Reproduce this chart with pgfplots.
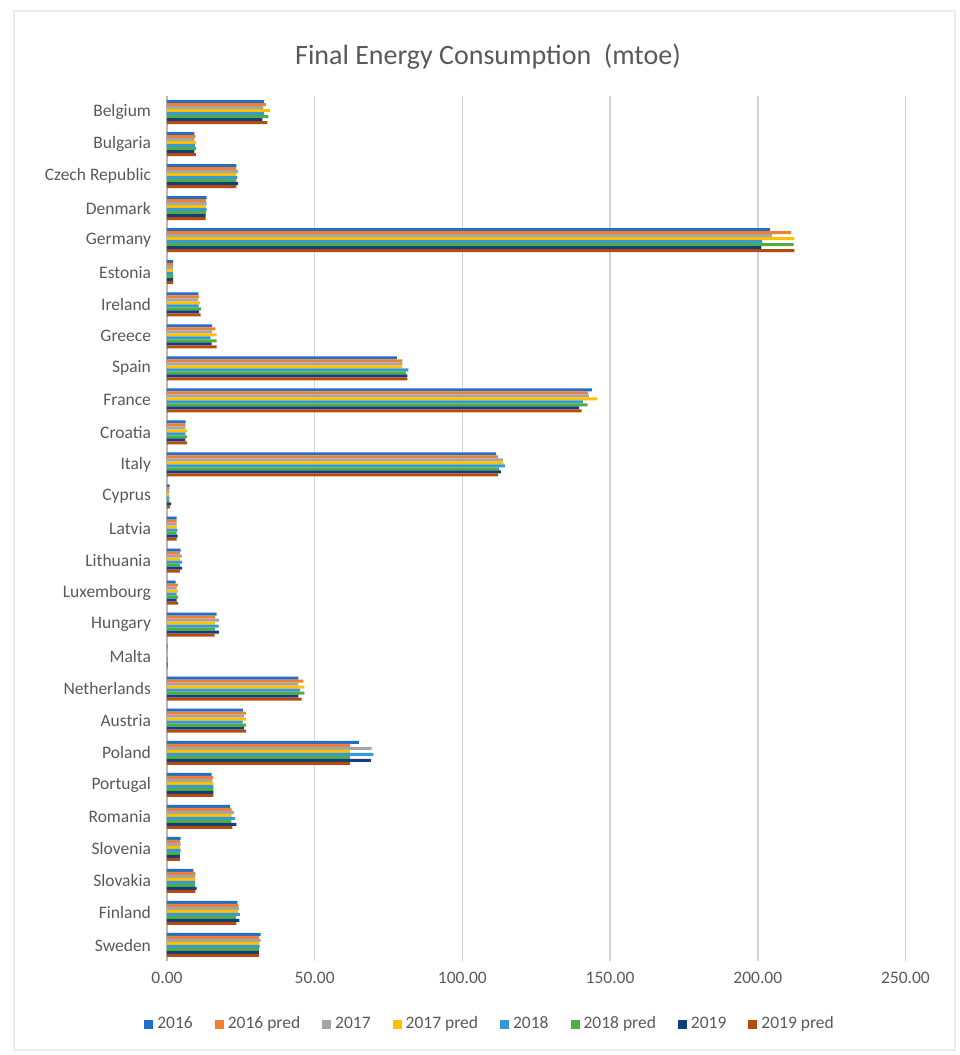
\documentclass[border=0pt]{standalone}
\usepackage{pgfplots}
\pgfplotsset{compat=1.18}
\usepackage{pgfplotstable}
\usepackage{fontspec}
\setmainfont{Carlito}
\usetikzlibrary{calc}
\definecolor{txt}{HTML}{595959}
\definecolor{cA}{HTML}{1F6FC9}
\definecolor{cB}{HTML}{F07E33}
\definecolor{cC}{HTML}{A5A5A5}
\definecolor{cD}{HTML}{FFC000}
\definecolor{cE}{HTML}{3399D9}
\definecolor{cF}{HTML}{4EAD43}
\definecolor{cG}{HTML}{103F7E}
\definecolor{cH}{HTML}{B84A0E}
\pgfplotstableread{
idx a b c d e f g h
0 32.9 33.5 32.6 34.9 32.9 34.3 32.3 34.0
1 9.3 9.6 9.3 9.9 9.4 9.9 9.3 9.8
2 23.5 23.5 24.1 23.5 23.8 23.5 24.1 23.5
3 13.4 13.2 13.4 13.2 13.4 13.2 13.1 13.1
4 204.2 211.3 204.8 212.4 201.5 212.1 201.2 212.4
5 2.1 2.1 2.1 2.1 2.1 2.2 2.1 2.1
6 10.6 10.8 10.5 11.2 10.7 11.5 10.9 11.4
7 15.3 16.4 15.3 16.8 14.8 16.8 15.1 16.8
8 77.8 79.7 79.7 79.7 81.7 80.9 81.4 81.4
9 143.8 142.5 142.8 145.7 140.8 142.4 139.5 140.4
10 6.3 6.2 6.2 6.7 6.2 6.7 6.2 6.7
11 111.4 112.1 113.7 113.9 114.4 112.4 113.0 112.1
12 0.9 0.8 0.8 0.8 0.8 0.8 1.4 1.0
13 3.3 3.3 3.3 3.3 3.5 3.3 3.6 3.3
14 4.6 4.4 5.0 4.4 5.0 4.4 5.1 4.4
15 2.9 3.7 3.3 3.7 3.3 3.8 3.3 3.8
16 16.8 16.3 17.6 16.2 17.5 16.3 17.6 16.1
17 0.2 0.2 0.2 0.2 0.2 0.2 0.2 0.2
18 44.5 46.2 44.5 46.5 45.0 46.5 44.5 45.6
19 25.7 26.8 26.1 26.7 25.6 26.7 26.1 26.8
20 65.0 62.0 69.3 62.0 69.9 62.0 69.0 62.0
21 15.1 15.5 15.4 15.7 15.7 15.7 15.7 15.7
22 21.4 21.9 22.7 21.9 23.0 21.8 23.5 22.1
23 4.6 4.4 4.6 4.4 4.6 4.4 4.4 4.4
24 8.9 9.6 9.5 9.6 9.5 9.5 10.0 9.6
25 23.8 24.2 24.4 24.1 24.7 23.4 24.5 23.5
26 31.7 31.2 31.7 31.2 31.4 31.1 31.1 31.1
}\data
\begin{document}
\begin{tikzpicture}
\begin{axis}[
  name=ax,
  scale only axis,
  width=384pt, height=432.5pt,
  xbar=0pt, bar width=1.5pt,
  xmin=0, xmax=260,
  ymin=-0.5, ymax=26.5,
  y dir=reverse,
  xtick={0,50,100,150,200,250},
  ytick={0,...,26},
  yticklabels={Belgium,Bulgaria,Czech Republic,Denmark,Germany,Estonia,Ireland,Greece,Spain,France,Croatia,Italy,Cyprus,Latvia,Lithuania,Luxembourg,Hungary,Malta,Netherlands,Austria,Poland,Portugal,Romania,Slovenia,Slovakia,Finland,Sweden},
  major tick length=0pt,
  axis line style={draw=none},
  xmajorgrids,
  grid style={draw=black!17, line width=0.8pt},
  extra x ticks={0},
  extra x tick labels={},
  extra x tick style={grid style={draw=black!28, line width=0.8pt}},
  /pgf/number format/assume math mode=true,
  xticklabel={\pgfmathprintnumber[fixed,fixed zerofill,precision=2]{\tick}},
  ticklabel style={font=\fontsize{8.75}{10}\selectfont, text=txt},
  xticklabel style={yshift=-2pt},
  yticklabel style={xshift=-4.5pt},
  legend columns=8,
  legend style={at={(0.422,-0.073)}, anchor=center, draw=none, fill=none,
    font=\fontsize{8.75}{10}\selectfont, text=txt,
    /tikz/every even column/.append style={column sep=9pt}},
  legend image code/.code={\fill[#1] (0pt,-2.25pt) rectangle (4.5pt,2.25pt);},
]
\addplot[draw=none, fill=cA, bar shift=5.25pt] table[x=a, y=idx] {\data};
\addplot[draw=none, fill=cB, bar shift=3.75pt] table[x=b, y=idx] {\data};
\addplot[draw=none, fill=cC, bar shift=2.25pt] table[x=c, y=idx] {\data};
\addplot[draw=none, fill=cD, bar shift=0.75pt] table[x=d, y=idx] {\data};
\addplot[draw=none, fill=cE, bar shift=-0.75pt] table[x=e, y=idx] {\data};
\addplot[draw=none, fill=cF, bar shift=-2.25pt] table[x=f, y=idx] {\data};
\addplot[draw=none, fill=cG, bar shift=-3.75pt] table[x=g, y=idx] {\data};
\addplot[draw=none, fill=cH, bar shift=-5.25pt] table[x=h, y=idx] {\data};
\legend{2016,2016 pred,2017,2017 pred,2018,2018 pred,2019,2019 pred}
\end{axis}
\draw[black!8, line width=0.8pt] ($(ax.south west)+(-76.5pt,-44.5pt)$) rectangle ($(ax.north east)+(10pt,42.5pt)$);
\node[text=txt, font=\fontsize{14}{16}\selectfont] at ($(ax.north west)+(160.5pt,19.5pt)$) {Final Energy Consumption\ \ (mtoe)};
\path[use as bounding box] ($(ax.south west)+(-83.5pt,-47pt)$) rectangle ($(ax.north east)+(12pt,48pt)$);
\end{tikzpicture}
\end{document}
